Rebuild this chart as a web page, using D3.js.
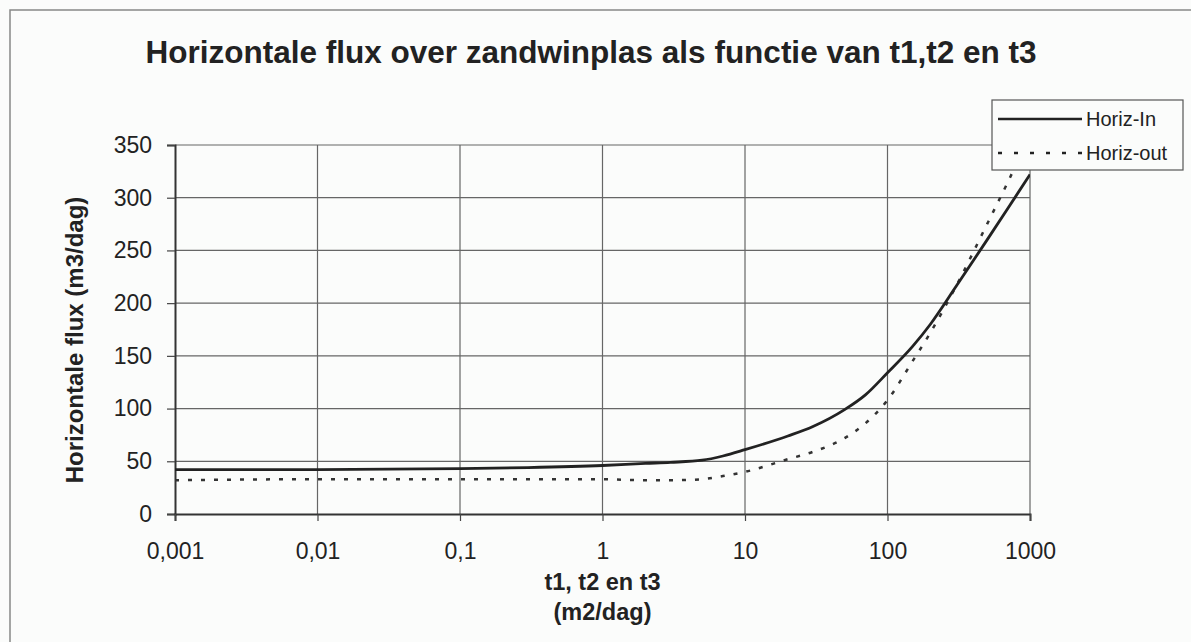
<!DOCTYPE html>
<html>
<head>
<meta charset="utf-8">
<script src="https://cdn.jsdelivr.net/npm/d3@7"></script>
<style>
  body { margin: 0; background: #fbfcfb; }
  text { font-family: "Liberation Sans", Arial, sans-serif; fill: #222; }
</style>
</head>
<body>
<svg id="drawingSpace" width="1191" height="642"></svg>
<script>
//data
var xValues = [0.001, 0.01, 0.1, 0.3, 1, 2, 3, 5, 7, 10, 20, 30, 50, 70, 100, 150, 200, 300, 500, 700, 1000];
var horizIn = [42, 42, 43, 44, 46, 48, 49, 51, 55, 61, 74, 83, 99, 113, 134, 159, 180, 215, 260, 290, 322];
var horizOut = [32, 33, 33, 33, 33, 32, 32, 33, 36, 40, 52, 59, 72, 86, 108, 145, 172, 215, 275, 315, 360];
var xTicks = [0.001, 0.01, 0.1, 1, 10, 100, 1000];
var xTickLabels = ["0,001", "0,01", "0,1", "1", "10", "100", "1000"];
var yTicks = [0, 50, 100, 150, 200, 250, 300, 350];
var seriesNames = ["Horiz-In", "Horiz-out"];

var svg = d3.select("#drawingSpace"),
    margin = {top: 145, left: 175, right: 161, bottom: 128},
    width = +svg.attr("width"),
    height = +svg.attr("height"),
    chartWidth = width - margin.left - margin.right,
    chartHeight = height - margin.top - margin.bottom;

//outer frame of the chart (only top and left visible)
svg.append("path")
    .attr("d", "M10,642 L10,10 L1191,10")
    .attr("fill", "none")
    .attr("stroke", "#888")
    .attr("stroke-width", 1.5);

var x = d3.scaleLog().domain([0.001, 1000]).range([0, chartWidth]);
var y = d3.scaleLinear().domain([0, 350]).range([chartHeight, 0]);

var g = svg.append("g").attr("transform", "translate(" + [margin.left, margin.top] + ")");

//gridlines
g.append("g").selectAll("line").data(yTicks.slice(1)).enter().append("line")
    .attr("x1", 0).attr("x2", chartWidth)
    .attr("y1", function (d) { return y(d); })
    .attr("y2", function (d) { return y(d); })
    .attr("stroke", "#666").attr("stroke-width", 1.2);
g.append("g").selectAll("line").data(xTicks.slice(1)).enter().append("line")
    .attr("y1", 0).attr("y2", chartHeight)
    .attr("x1", function (d) { return x(d); })
    .attr("x2", function (d) { return x(d); })
    .attr("stroke", "#666").attr("stroke-width", 1.2);

//axes
var yAxis = g.append("g")
    .call(d3.axisLeft(y).tickValues(yTicks).tickSize(8).tickPadding(15));
var xAxis = g.append("g")
    .attr("transform", "translate(0," + chartHeight + ")")
    .call(d3.axisBottom(x).tickValues(xTicks).tickSize(7).tickPadding(22)
        .tickFormat(function (d, i) { return xTickLabels[i]; }));
[yAxis, xAxis].forEach(function (a) {
    a.select(".domain").attr("stroke", "#333").attr("stroke-width", 2);
    a.selectAll(".tick line").attr("stroke", "#444").attr("stroke-width", 1.2);
    a.selectAll(".tick text").attr("font-size", 23).attr("fill", "#222")
        .attr("font-family", "Liberation Sans, Arial, sans-serif");
});

//clip the series to the plot area
svg.append("clipPath").attr("id", "plotClip").append("rect")
    .attr("x", 0).attr("y", 0).attr("width", chartWidth).attr("height", chartHeight);

var line = d3.line()
    .x(function (d) { return x(d[0]); })
    .y(function (d) { return y(d[1]); })
    .curve(d3.curveMonotoneX);

var series = g.append("g").attr("clip-path", "url(#plotClip)");
series.append("path")
    .datum(xValues.map(function (v, i) { return [v, horizOut[i]]; }))
    .attr("d", line).attr("fill", "none")
    .attr("stroke", "#333").attr("stroke-width", 2.5)
    .attr("stroke-dasharray", "4,9");
series.append("path")
    .datum(xValues.map(function (v, i) { return [v, horizIn[i]]; }))
    .attr("d", line).attr("fill", "none")
    .attr("stroke", "#222").attr("stroke-width", 2.8);

//titles
svg.append("text")
    .attr("x", 591).attr("y", 63)
    .attr("text-anchor", "middle")
    .attr("font-size", 31.5).attr("font-weight", "bold")
    .text("Horizontale flux over zandwinplas als functie van t1,t2 en t3");

svg.append("text")
    .attr("x", margin.left + chartWidth / 2).attr("y", 590)
    .attr("text-anchor", "middle")
    .attr("font-size", 23.5).attr("font-weight", "bold")
    .text("t1, t2 en t3");
svg.append("text")
    .attr("x", margin.left + chartWidth / 2).attr("y", 620)
    .attr("text-anchor", "middle")
    .attr("font-size", 23.5).attr("font-weight", "bold")
    .text("(m2/dag)");

svg.append("text")
    .attr("transform", "translate(83,340) rotate(-90)")
    .attr("text-anchor", "middle")
    .attr("font-size", 24).attr("font-weight", "bold")
    .text("Horizontale flux (m3/dag)");

//legend
var legend = svg.append("g").attr("transform", "translate(992,100)");
legend.append("rect")
    .attr("width", 191).attr("height", 70)
    .attr("fill", "#fbfcfb").attr("stroke", "#555").attr("stroke-width", 1.2);
seriesNames.forEach(function (name, i) {
    var ly = 19 + i * 34;
    legend.append("line")
        .attr("x1", 6).attr("x2", 90).attr("y1", ly).attr("y2", ly)
        .attr("stroke", "#222").attr("stroke-width", 2.5)
        .attr("stroke-dasharray", i === 0 ? null : "4,12");
    legend.append("text")
        .attr("x", 94).attr("y", ly + 7)
        .attr("font-size", 20)
        .text(name);
});
</script>
</body>
</html>
